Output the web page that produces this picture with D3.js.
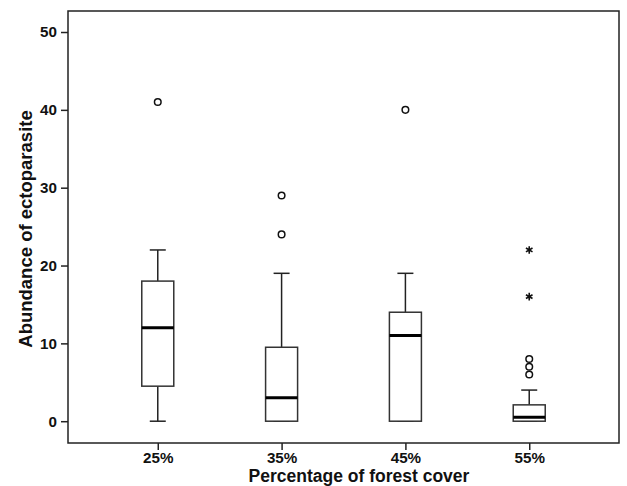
<!DOCTYPE html>
<html>
<head>
<meta charset="utf-8">
<script src="https://cdn.jsdelivr.net/npm/d3@7"></script>
<style>
  body { margin: 0; background: #fff; }
  svg { display: block; font-family: "Liberation Sans", Arial, sans-serif; }
</style>
</head>
<body>
<svg width="627" height="486"></svg>
<script>
// forest cover groups
var categories = ["25%", "35%", "45%", "55%"];
var whiskerLow = [0, 0, 0, 0];
var q1 = [4.5, 0, 0, 0];
var medians = [12, 3, 11, 0.5];
var q3 = [18, 9.5, 14, 2.1];
var whiskerHigh = [22, 19, 19, 4];
// circles = outliers, stars = extremes
var outliers = [[41], [24, 29], [40], [6, 7, 8]];
var extremes = [[], [], [], [16, 22]];
var yTicks = [0, 10, 20, 30, 40, 50];

var svg = d3.select("svg");
var plotLeft = 68, plotRight = 619, plotTop = 11, plotBottom = 443;

var x = d3.scalePoint()
    .domain(categories)
    .range([plotLeft, plotRight])
    .padding(0.725);

var y = d3.scaleLinear()
    .domain([-2.8, 52.7])
    .range([plotBottom, plotTop]);

var boxW = 32;

// frame
svg.append("rect")
    .attr("x", plotLeft).attr("y", plotTop)
    .attr("width", plotRight - plotLeft).attr("height", plotBottom - plotTop)
    .attr("fill", "none").attr("stroke", "#222").attr("stroke-width", 1.5);

// axes
var yAxis = svg.append("g")
    .attr("transform", "translate(" + plotLeft + ",0)")
    .call(d3.axisLeft(y).tickValues(yTicks).tickSize(7).tickPadding(4));
var xAxis = svg.append("g")
    .attr("transform", "translate(0," + plotBottom + ")")
    .call(d3.axisBottom(x).tickSize(7).tickPadding(2));

[yAxis, xAxis].forEach(function(g) {
  g.select(".domain").remove();
  g.selectAll("line").attr("stroke", "#222").attr("stroke-width", 1.5);
  g.selectAll("text")
    .attr("fill", "#111")
    .style("font-size", "15.2px")
    .style("font-weight", "bold")
    .style("font-family", "'Liberation Sans', Arial, sans-serif");
});

var boxes = svg.append("g").selectAll("g")
    .data(categories)
    .enter().append("g");

// whiskers
boxes.append("line")
    .attr("x1", function(d) { return x(d); })
    .attr("x2", function(d) { return x(d); })
    .attr("y1", function(d, i) { return y(whiskerLow[i]); })
    .attr("y2", function(d, i) { return y(q1[i]); })
    .attr("stroke", "#222").attr("stroke-width", 1.5);
boxes.append("line")
    .attr("x1", function(d) { return x(d); })
    .attr("x2", function(d) { return x(d); })
    .attr("y1", function(d, i) { return y(q3[i]); })
    .attr("y2", function(d, i) { return y(whiskerHigh[i]); })
    .attr("stroke", "#222").attr("stroke-width", 1.5);
// caps
boxes.append("line")
    .attr("x1", function(d) { return x(d) - boxW / 4; })
    .attr("x2", function(d) { return x(d) + boxW / 4; })
    .attr("y1", function(d, i) { return y(whiskerLow[i]); })
    .attr("y2", function(d, i) { return y(whiskerLow[i]); })
    .attr("stroke", "#222").attr("stroke-width", 1.5);
boxes.append("line")
    .attr("x1", function(d) { return x(d) - boxW / 4; })
    .attr("x2", function(d) { return x(d) + boxW / 4; })
    .attr("y1", function(d, i) { return y(whiskerHigh[i]); })
    .attr("y2", function(d, i) { return y(whiskerHigh[i]); })
    .attr("stroke", "#222").attr("stroke-width", 1.5);

boxes.append("rect")
    .attr("x", function(d) { return x(d) - boxW / 2; })
    .attr("y", function(d, i) { return y(q3[i]); })
    .attr("width", boxW)
    .attr("height", function(d, i) { return y(q1[i]) - y(q3[i]); })
    .attr("fill", "#fff").attr("stroke", "#333").attr("stroke-width", 1.5);

boxes.append("line")
    .attr("x1", function(d) { return x(d) - boxW / 2; })
    .attr("x2", function(d) { return x(d) + boxW / 2; })
    .attr("y1", function(d, i) { return y(medians[i]); })
    .attr("y2", function(d, i) { return y(medians[i]); })
    .attr("stroke", "#000").attr("stroke-width", 3);

// outliers
var star = d3.symbol().type(d3.symbolAsterisk).size(40);
categories.forEach(function(c, i) {
  outliers[i].forEach(function(v) {
    svg.append("circle")
      .attr("cx", x(c)).attr("cy", y(v)).attr("r", 3.3)
      .attr("fill", "none").attr("stroke", "#111").attr("stroke-width", 1.5);
  });
  extremes[i].forEach(function(v) {
    svg.append("path")
      .attr("transform", "translate(" + x(c) + "," + y(v) + ")")
      .attr("d", star())
      .attr("fill", "none").attr("stroke", "#111").attr("stroke-width", 1.6);
  });
});

// titles
svg.append("text")
    .attr("transform", "translate(32," + 229 + ") rotate(-90)")
    .attr("text-anchor", "middle")
    .style("font-size", "18.5px").style("font-weight", "bold")
    .attr("fill", "#111")
    .text("Abundance of ectoparasite");

svg.append("text")
    .attr("x", 359).attr("y", 482)
    .attr("text-anchor", "middle")
    .style("font-size", "17.5px").style("font-weight", "bold")
    .attr("fill", "#111")
    .text("Percentage of forest cover");
</script>
</body>
</html>
